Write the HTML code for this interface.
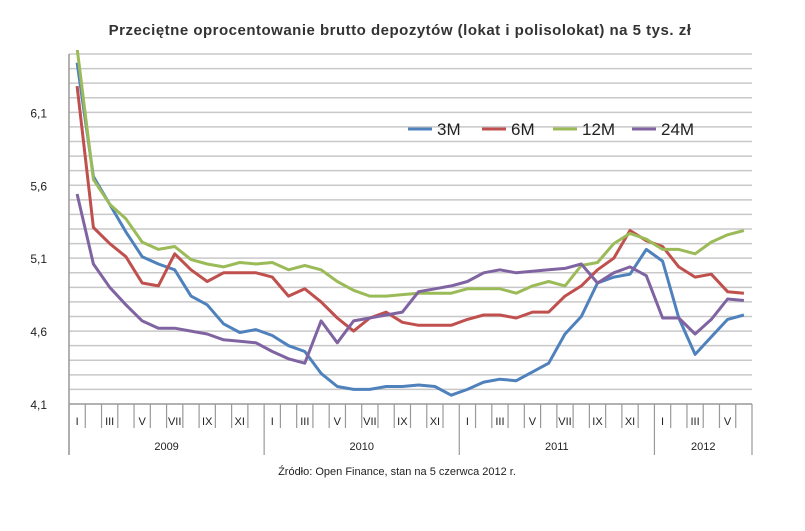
<!DOCTYPE html>
<html><head><meta charset="utf-8"><style>
body{margin:0;background:#fff;}
svg text{font-family:"Liberation Sans",sans-serif;}
</style></head><body>
<svg id="chart" width="805" height="526" viewBox="0 0 805 526" xmlns="http://www.w3.org/2000/svg">
<text x="400" y="35" text-anchor="middle" font-size="15" letter-spacing="0.5" font-weight="bold" fill="#333">Przeciętne oprocentowanie brutto depozytów (lokat i polisolokat) na 5 tys. zł</text>
<g id="grid"></g><g id="axes"></g><g id="series"></g>
<g id="legend"></g>
<text x="397" y="475" text-anchor="middle" font-size="11" fill="#222">Źródło: Open Finance, stan na 5 czerwca 2012 r.</text>
</svg>
<script>
const yTicks=[4.1,4.6,5.1,5.6,6.1];
const yTickLabels=["4,1","4,6","5,1","5,6","6,1"];
const years=["2009","2010","2011","2012"];
const monthLabels=["I","","III","","V","","VII","","IX","","XI",""];
const seriesNames=["3M","6M","12M","24M"];
const s3M=[6.44,5.66,5.47,5.28,5.11,5.06,5.02,4.84,4.78,4.65,4.59,4.61,4.57,4.50,4.46,4.31,4.22,4.20,4.20,4.22,4.22,4.23,4.22,4.16,4.20,4.25,4.27,4.26,4.32,4.38,4.58,4.70,4.93,4.97,4.99,5.16,5.08,4.69,4.44,4.56,4.68,4.71];
const s6M=[6.28,5.31,5.20,5.11,4.93,4.91,5.13,5.02,4.94,5.00,5.00,5.00,4.97,4.84,4.89,4.80,4.69,4.60,4.69,4.73,4.66,4.64,4.64,4.64,4.68,4.71,4.71,4.69,4.73,4.73,4.84,4.91,5.02,5.10,5.29,5.22,5.18,5.04,4.97,4.99,4.87,4.86];
const s12M=[6.54,5.64,5.47,5.37,5.21,5.16,5.18,5.09,5.06,5.04,5.07,5.06,5.07,5.02,5.05,5.02,4.94,4.88,4.84,4.84,4.85,4.86,4.86,4.86,4.89,4.89,4.89,4.86,4.91,4.94,4.91,5.05,5.07,5.20,5.27,5.23,5.16,5.16,5.13,5.21,5.26,5.29];
const s24M=[5.54,5.06,4.90,4.78,4.67,4.62,4.62,4.60,4.58,4.54,4.53,4.52,4.46,4.41,4.38,4.67,4.52,4.67,4.69,4.71,4.73,4.87,4.89,4.91,4.94,5.00,5.02,5.00,5.01,5.02,5.03,5.06,4.93,5.00,5.04,4.98,4.69,4.69,4.58,4.68,4.82,4.81];
const colors=["#4f81bd","#c0504d","#9bbb59","#8064a2"];
const allSeries=[s3M,s6M,s12M,s24M];
const NS="http://www.w3.org/2000/svg";
const L=69,R=752,T=54,B=404,N=s3M.length,cw=(R-L)/N;
const yMin=4.1,yMax=6.5;
const yS=v=>B-(v-yMin)/(yMax-yMin)*(B-T);
const xS=i=>L+cw*(i+0.5);
function mk(tag,attrs,parent){const e=document.createElementNS(NS,tag);for(const k in attrs)e.setAttribute(k,attrs[k]);parent.appendChild(e);return e;}
const grid=document.getElementById('grid'),axes=document.getElementById('axes'),ser=document.getElementById('series'),leg=document.getElementById('legend');
for(let k=1;k<=24;k++){const v=yMin+k*0.1;const g=mk('line',{x1:L,x2:R,y1:yS(v),y2:yS(v),stroke:'#c8c8c8','stroke-width':1.5},grid);

}
yTicks.forEach((v,i)=>{const t=mk('text',{x:47,y:yS(v)+5,'text-anchor':'end','font-size':12,fill:'#222'},axes);t.textContent=yTickLabels[i];

});
const ax=mk('line',{x1:L,x2:L,y1:T,y2:455,stroke:'#999','stroke-width':1.5},axes);


const xa=mk('line',{x1:L,x2:R,y1:B,y2:B,stroke:'#999','stroke-width':1.5},axes);


for(let i=0;i<=N;i++){const x=L+cw*i;const big=(i%12===0)||i===N;
const tk=mk('line',{x1:x,x2:x,y1:B,y2:big?455:428,stroke:'#999','stroke-width':1.2},axes);

}
for(let i=0;i<N;i++){const lab=monthLabels[i%12];if(!lab)continue;const t=mk('text',{x:xS(i),y:425,'text-anchor':'middle','font-size':11,fill:'#222'},axes);t.textContent=lab;

}
years.forEach((y,k)=>{const a=L+cw*12*k,b=Math.min(R,L+cw*12*(k+1));const t=mk('text',{x:(a+b)/2,y:450,'text-anchor':'middle','font-size':11,fill:'#222'},axes);t.textContent=y;

});
const clip=mk('clipPath',{id:'pc'},document.getElementById('chart'));mk('rect',{x:L,y:T-4,width:R-L,height:B-T+4},clip);
allSeries.forEach((s,k)=>{const d=s.map((v,i)=>(i?'L':'M')+xS(i).toFixed(1)+','+yS(v).toFixed(1)).join(' ');
const p=mk('path',{d:d,fill:'none',stroke:colors[k],'stroke-width':3,'stroke-linejoin':'round','clip-path':'url(#pc)'},ser);

});
const lx=[408,482,553,632];
seriesNames.forEach((n,k)=>{const l=mk('line',{x1:lx[k],x2:lx[k]+24,y1:129,y2:129,stroke:colors[k],'stroke-width':3},leg);


const t=mk('text',{x:lx[k]+29,y:135,'font-size':17,fill:'#222'},leg);t.textContent=n;

});
</script>
</body></html>
